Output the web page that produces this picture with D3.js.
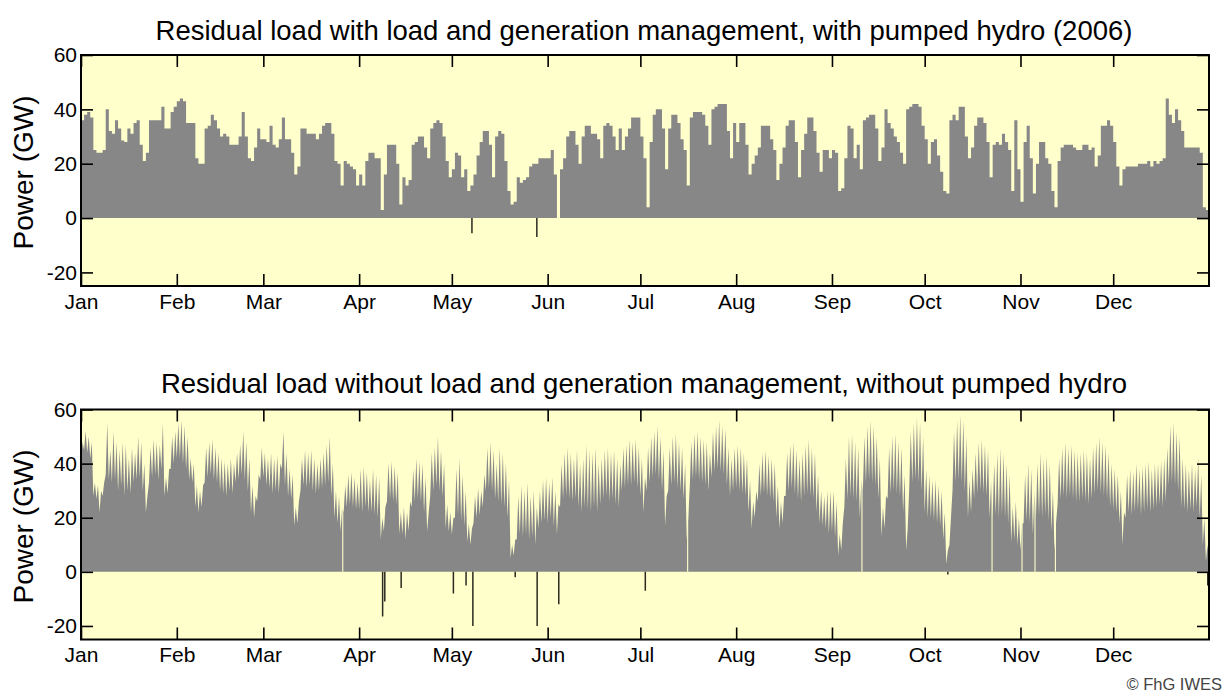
<!DOCTYPE html>
<html><head><meta charset="utf-8">
<script src="https://cdn.jsdelivr.net/npm/d3@7"></script>
<style>body{margin:0;background:#fff;} svg{display:block;font-family:"Liberation Sans",Arial,sans-serif;}</style>
</head><body><svg id="c" width="1226" height="693"></svg>
<script>
const monthLabels = ["Jan","Feb","Mar","Apr","May","Jun","Jul","Aug","Sep","Oct","Nov","Dec"];
const yTicks = [-20,0,20,40,60];
const titleTop = "Residual load with load and generation management, with pumped hydro (2006)";
const titleBottom = "Residual load without load and generation management, without pumped hydro";
const yLabel = "Power (GW)";
const credit = "\u00A9 FhG IWES";

// Daily residual load (GW), with management + pumped hydro
const topValues = [
36,38,39,37,25,24,24,25,40,32,
31,36,33,28.5,28,33,31,35,36,27,
21,24,36,36,36,36,41,33,33,39,
41,43,44,43,35,35,35,22,20,20,
33,34,38,36,33,30,31,30,27,27,
27,30,39,30,22,21,26,33,29,29,
28,34,27,26,29,37,29,29,24,16,
19,33,33,31,31,31,29,31,34,35,
35,31,21,20,12,21,20,19,18,12,
16,12,21,24,24,22,22,3,16,27,
27,27,20,5,15,12,14,27,28,30,
30,26,22,33,35,36,35,30,21,15,
18,24,23,15,18,10,12,16,23,28,
32,32,27,15,30,32,31,21,10,5,
6,15,13,14,15,19,20,20,22,22,
22,22,25,16,0,18,22,30,32,32,
27,20,30,34,34,31,31,29,22,34,
35,34,30,25,33,25,30,33,37,37,
37,30,22,4,28,38,40,40,33,18,
33,38,38,35,29,25,12,37,39,39,
39,38,34,27,40,41,42,42,42,32,
22,35,28,35,35,27,16,20,23,26,
34,34,34,29,25,14,20,26,34,36,
36,28,15,25,31,37,37,32,24,17,
25,25,22,25,24,10,11,22,34,33,
22,27,18,36,37,38,38,33,21,26,
40,35,33,30,28,24,20,40,41,42,
42,41,34,29,20,28,29,23,17,10,
9,36,38,36,41,41,30,22,26,34,
37,37,35,28,15,27,28,27,31,28,
25,10,36,18,6,28,34,22,9,20,
28,28,22,20,10,4,21,26,27,27,
27,26,25,25,27,27,25,26,19,23,
34,34,36,34,28,19,12,18,19,19,
19,19,20,20,20,21,19,21,20,21,
22,44,38,35,40,36,32,26,26,26,
26,26,24,4,3];
const topDips = [[126.5,-5.6],[147.5,-7]];

// Daily residual load (GW), no management: night level and midday peak
const bottomCore = [
40,45,44,42,28,27,22,28,36,34,
33,34,30,32,28,30,29,33,34,35,
30,22,33,35,36,34,38,28,29,38,
40,42,42,40,38,34,33,24,22,24,
33,35,36,34,33,30,29,28,30,29,
33,34,36,34,30,22,20,26,34,35,
32,31,29,30,29,38,32,28,27,17,
18,30,32,31,32,30,29,30,31,32,
33,28,20,18,15,22,24,25,24,23,
23,22,24,22,22,21,20,12,15,26,
27,26,25,14,14,12,15,24,26,27,
26,22,15,28,30,32,30,28,16,15,
14,20,21,19,17,11,10,18,20,21,
24,30,31,30,27,26,25,24,20,5,
6,12,14,13,14,12,13,10,16,18,
19,18,20,17,14,24,27,28,27,26,
27,24,22,24,23,22,24,22,25,27,
28,26,27,25,24,30,31,32,32,33,
31,28,22,30,33,35,36,34,30,17,
30,32,33,31,30,27,12,32,34,35,
34,33,32,30,35,37,38,37,36,32,
28,30,31,30,29,28,22,16,20,26,
28,29,28,27,26,20,16,18,28,30,
31,29,27,26,28,29,28,27,22,18,
17,16,14,15,13,6,8,24,27,28,
27,26,20,30,33,34,33,32,27,13,
16,27,29,30,29,28,22,8,31,33,
34,33,30,22,20,20,19,18,17,12,
3,10,30,33,34,33,30,20,22,27,
29,30,29,28,20,20,21,20,21,20,
18,11,12,10,8,18,19,18,14,20,
21,20,21,19,15,8,25,27,28,27,
28,27,26,26,27,26,25,27,29,30,
29,28,27,24,23,22,18,10,20,22,
21,22,23,21,22,23,22,23,24,25,
24,26,32,33,32,30,24,23,22,23,
22,24,20,10,4];
const bottomPeak = [
48,52,50,48,33,32,30,33,55,45,
52,48,45,48,47,42,46,44,50,48,
40,28,46,49,48,47,55,35,38,50,
52,55,56,54,50,42,40,32,30,32,
46,48,49,46,44,42,41,40,42,40,
44,47,52,48,42,32,28,36,46,44,
42,44,42,43,40,52,44,38,36,24,
26,42,45,44,45,42,40,42,44,47,
50,40,30,28,24,32,36,37,35,33,
38,39,37,34,38,36,35,20,24,40,
41,39,37,22,24,22,26,38,42,41,
40,35,22,44,46,50,45,40,25,22,
20,38,42,36,30,18,16,28,31,30,
36,46,48,45,40,46,44,40,34,10,
12,28,32,30,33,28,30,24,30,34,
35,33,35,30,25,40,44,46,44,42,
45,40,42,47,45,44,46,40,42,45,
46,44,45,42,40,46,47,49,48,49,
46,42,35,46,50,52,54,50,45,28,
46,50,51,48,46,40,20,48,51,52,
50,49,48,44,52,54,56,54,53,46,
42,46,47,46,44,42,34,26,30,40,
44,45,43,42,40,32,26,28,44,47,
48,45,42,44,47,49,46,44,36,30,
28,30,30,30,26,14,18,42,50,51,
48,46,34,50,54,56,54,50,42,24,
28,46,50,51,48,46,36,16,52,55,
57,55,50,38,36,34,34,32,30,22,
8,20,52,56,58,56,50,34,38,44,
48,49,47,45,34,40,44,46,44,40,
36,24,26,20,18,36,40,38,30,40,
44,42,43,40,30,18,42,46,48,46,
47,45,44,44,45,44,42,46,48,50,
48,47,44,40,38,36,30,22,36,38,
37,40,38,39,40,41,38,40,40,41,
42,46,54,55,52,50,42,40,38,40,
38,42,36,20,10];
const bottomDips = [[97.6,-16.5],[98.3,-11],[103.6,-6],[120.5,-8],[124.6,-5],[126.8,-20],
  [140.5,-2],[147.6,-20],[154.6,-12],[182.6,-7],[280.5,-1],[364.6,-5]];
// hours where the residual load briefly fell to about zero (thin light lines)
const bottomZeroDays = [84.7, 196.3, 252.7, 294.8, 304.5, 308.7, 315.3];

const svg = d3.select("#c");
const left = 81, right = 1209;
const yearStart = new Date(Date.UTC(2006,0,1)), yearEnd = new Date(Date.UTC(2007,0,1));
const x = d3.scaleUtc().domain([yearStart, yearEnd]).range([left, right]);
const dayDate = d => new Date(yearStart.getTime() + d * 864e5);
const GRAY = "#878787";
const BG = "#FFFFCC";
const FONT = '"Liberation Sans",Arial,sans-serif';

function panel(idx, top, bottom, title, titleY, core, peak, dips, zeroDays) {
  const y = d3.scaleLinear().domain([-25, 60]).range([bottom, top]);
  const g = svg.append("g");
  g.append("rect").attr("x", left).attr("y", top).attr("width", right - left).attr("height", bottom - top).attr("fill", BG);
  const clip = "clip" + idx;
  g.append("clipPath").attr("id", clip).append("rect").attr("x", left).attr("y", top).attr("width", right - left).attr("height", bottom - top);
  const plot = g.append("g").attr("clip-path", `url(#${clip})`);

  let pts;
  if (peak) {
    pts = [];
    core.forEach((v, i) => { pts.push([i, v]); pts.push([i + 0.5, peak[i]]); });
    pts.push([365, core[core.length - 1]]);
    plot.append("path").datum(pts)
      .attr("d", d3.area().x(d => x(dayDate(d[0]))).y0(y(0)).y1(d => y(d[1])))
      .attr("fill", GRAY);
  } else {
    pts = core.map((v, i) => [i, v]);
    pts.push([365, core[core.length - 1]]);
    plot.append("path").datum(pts)
      .attr("d", d3.area().curve(d3.curveStepAfter).x(d => x(dayDate(d[0]))).y0(y(0)).y1(d => y(d[1])))
      .attr("fill", GRAY);
  }
  plot.selectAll("line.gap").data(zeroDays).join("line").attr("class", "gap")
    .attr("x1", d => x(dayDate(d))).attr("x2", d => x(dayDate(d)))
    .attr("y1", y(0)).attr("y2", y(60))
    .attr("stroke", BG).attr("stroke-width", 1.1);
  plot.selectAll("line.dip").data(dips).join("line").attr("class", "dip")
    .attr("x1", d => x(dayDate(d[0]))).attr("x2", d => x(dayDate(d[0])))
    .attr("y1", y(0)).attr("y2", d => y(d[1]))
    .attr("stroke", "#2a2a20").attr("stroke-width", 1.5);

  const months = d3.utcMonths(yearStart, yearEnd);
  const fmtY = d => String(d);
  const axB = g.append("g").attr("transform", `translate(0,${bottom})`)
    .call(d3.axisBottom(x).tickValues(months).tickFormat((d, i) => monthLabels[i]).tickSize(-12).tickPadding(8));
  const axT = g.append("g").attr("transform", `translate(0,${top})`)
    .call(d3.axisTop(x).tickValues(months).tickFormat("").tickSize(-12));
  const axL = g.append("g").attr("transform", `translate(${left},0)`)
    .call(d3.axisLeft(y).tickValues(yTicks).tickFormat(fmtY).tickSize(-12).tickPadding(4));
  const axR = g.append("g").attr("transform", `translate(${right},0)`)
    .call(d3.axisRight(y).tickValues(yTicks).tickFormat("").tickSize(-12));
  [axB, axT, axL, axR].forEach(a => {
    a.select(".domain").remove();
    a.selectAll(".tick line").attr("stroke", "#000").attr("stroke-width", 1.6);
    a.selectAll("text").attr("fill", "#000").style("font-size", "21px").style("font-family", FONT);
  });
  g.append("rect").attr("x", left).attr("y", top).attr("width", right - left).attr("height", bottom - top)
    .attr("fill", "none").attr("stroke", "#000").attr("stroke-width", 2);

  g.append("text").attr("x", (left + right) / 2 - 1).attr("y", titleY).attr("text-anchor", "middle")
    .style("font-size", "27.5px").text(title);
  g.append("text").attr("transform", `translate(33,${(top + bottom) / 2 + 2}) rotate(-90)`)
    .attr("text-anchor", "middle").style("font-size", "28px").text(yLabel);
}

panel(0, 55, 286, titleTop, 40, topValues, null, topDips, []);
panel(1, 409.5, 639.5, titleBottom, 393, bottomCore, bottomPeak, bottomDips, bottomZeroDays);

svg.append("text").attr("x", 1222).attr("y", 690).attr("text-anchor", "end")
  .style("font-size", "16.5px").attr("fill", "#444").text(credit);
</script></body></html>
